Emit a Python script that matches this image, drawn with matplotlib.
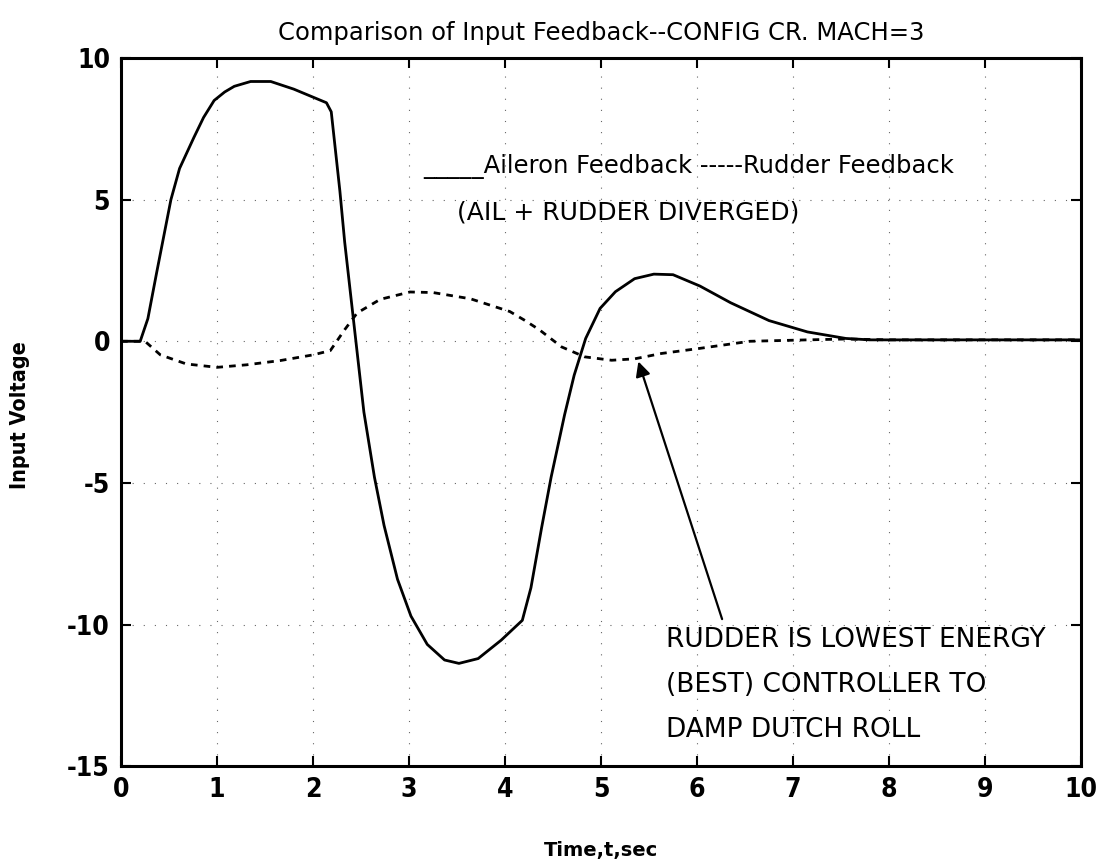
import numpy as np
import matplotlib.pyplot as plt

plt.rcParams['axes.unicode_minus'] = False

# aileron feedback input voltage vs time
t_ail = [0, 0.20, 0.28, 0.37, 0.52, 0.61, 0.76, 0.86, 0.97, 1.08, 1.18, 1.35, 1.56,
         1.80, 2.14, 2.19, 2.28, 2.33, 2.43, 2.53, 2.64, 2.74, 2.88, 3.02, 3.19, 3.37,
         3.52, 3.72, 3.96, 4.18, 4.27, 4.38, 4.48, 4.62, 4.72, 4.84, 4.99, 5.15, 5.35,
         5.55, 5.75, 6.03, 6.35, 6.75, 7.15, 7.55, 7.80, 10.0]
v_ail = [0, 0, 0.8, 2.4, 5.0, 6.1, 7.2, 7.9, 8.5, 8.8, 9.0, 9.17, 9.17,
         8.9, 8.42, 8.1, 5.3, 3.5, 0.5, -2.5, -4.8, -6.5, -8.4, -9.7, -10.7, -11.25,
         -11.37, -11.2, -10.55, -9.85, -8.7, -6.6, -4.8, -2.6, -1.2, 0.1, 1.16, 1.75, 2.21,
         2.37, 2.35, 1.95, 1.36, 0.73, 0.33, 0.1, 0.05, 0.05]

# rudder feedback input voltage vs time
t_rud = [0, 0.20, 0.25, 0.41, 0.68, 1.0, 1.31, 1.66, 2.0, 2.18, 2.33, 2.46, 2.7,
         3.01, 3.25, 3.64, 4.05, 4.20, 4.36, 4.59, 4.83, 5.11, 5.35, 5.63, 6.03, 6.55,
         7.15, 7.55, 8.0, 10.0]
v_rud = [0, 0, 0.0, -0.48, -0.8, -0.92, -0.83, -0.68, -0.48, -0.33, 0.41, 1.0, 1.48,
         1.74, 1.72, 1.5, 1.05, 0.75, 0.4, -0.2, -0.55, -0.67, -0.62, -0.43, -0.25, 0.0,
         0.05, 0.08, 0.05, 0.05]

xticks = np.arange(0, 11, 1)
yticks = [-15, -10, -5, 0, 5, 10]

fig = plt.figure(figsize=(11.02, 8.59), dpi=100)
ax = fig.add_axes([0.1098, 0.108, 0.8712, 0.8245])

ax.plot(t_ail, v_ail, color='black', lw=2.0, solid_joinstyle='round')
ax.plot(t_rud, v_rud, color='black', lw=2.0, ls=(0, (2.4, 2.2)))

ax.set_xlim(0, 10)
ax.set_ylim(-15, 10)
ax.set_xticks(xticks)
ax.set_yticks(yticks)
ax.grid(True, color='black', lw=0.8, ls=(0, (1, 9)), alpha=0.6)

ax.tick_params(direction='in', length=7, width=1.5, top=True, right=True,
               labelsize=19, pad=8)
for lab in ax.get_xticklabels() + ax.get_yticklabels():
    lab.set_fontstretch('condensed')
    lab.set_fontweight('bold')
for s in ax.spines.values():
    s.set_linewidth(2.2)

ax.set_title('Comparison of Input Feedback--CONFIG CR. MACH=3', fontsize=17.5,
             pad=13)
ax.set_xlabel('Time,t,sec', fontsize=14, fontweight='bold', labelpad=27)
ax.set_ylabel('Input Voltage', fontsize=15.5, fontweight='bold',
              fontstretch='condensed')
ax.yaxis.set_label_coords(-0.095, 0.496)

# legend written inside the plot
ax.text(3.15, 5.95, '_____Aileron Feedback -----Rudder Feedback', fontsize=17.5,
        ha='left', va='baseline')
ax.text(3.5, 4.55, '(AIL + RUDDER DIVERGED)', fontsize=18, ha='left',
        va='center')

# note on the rudder response
ax.annotate('', xy=(5.38, -0.62), xytext=(6.27, -9.9),
            arrowprops=dict(arrowstyle='-|>', color='black', lw=1.6,
                            mutation_scale=22))
ax.text(5.68, -12.14, 'RUDDER IS LOWEST ENERGY\n(BEST) CONTROLLER TO\nDAMP DUTCH ROLL',
        fontsize=19, ha='left', va='center', linespacing=1.95)

fig.savefig('out.png', dpi=100)
